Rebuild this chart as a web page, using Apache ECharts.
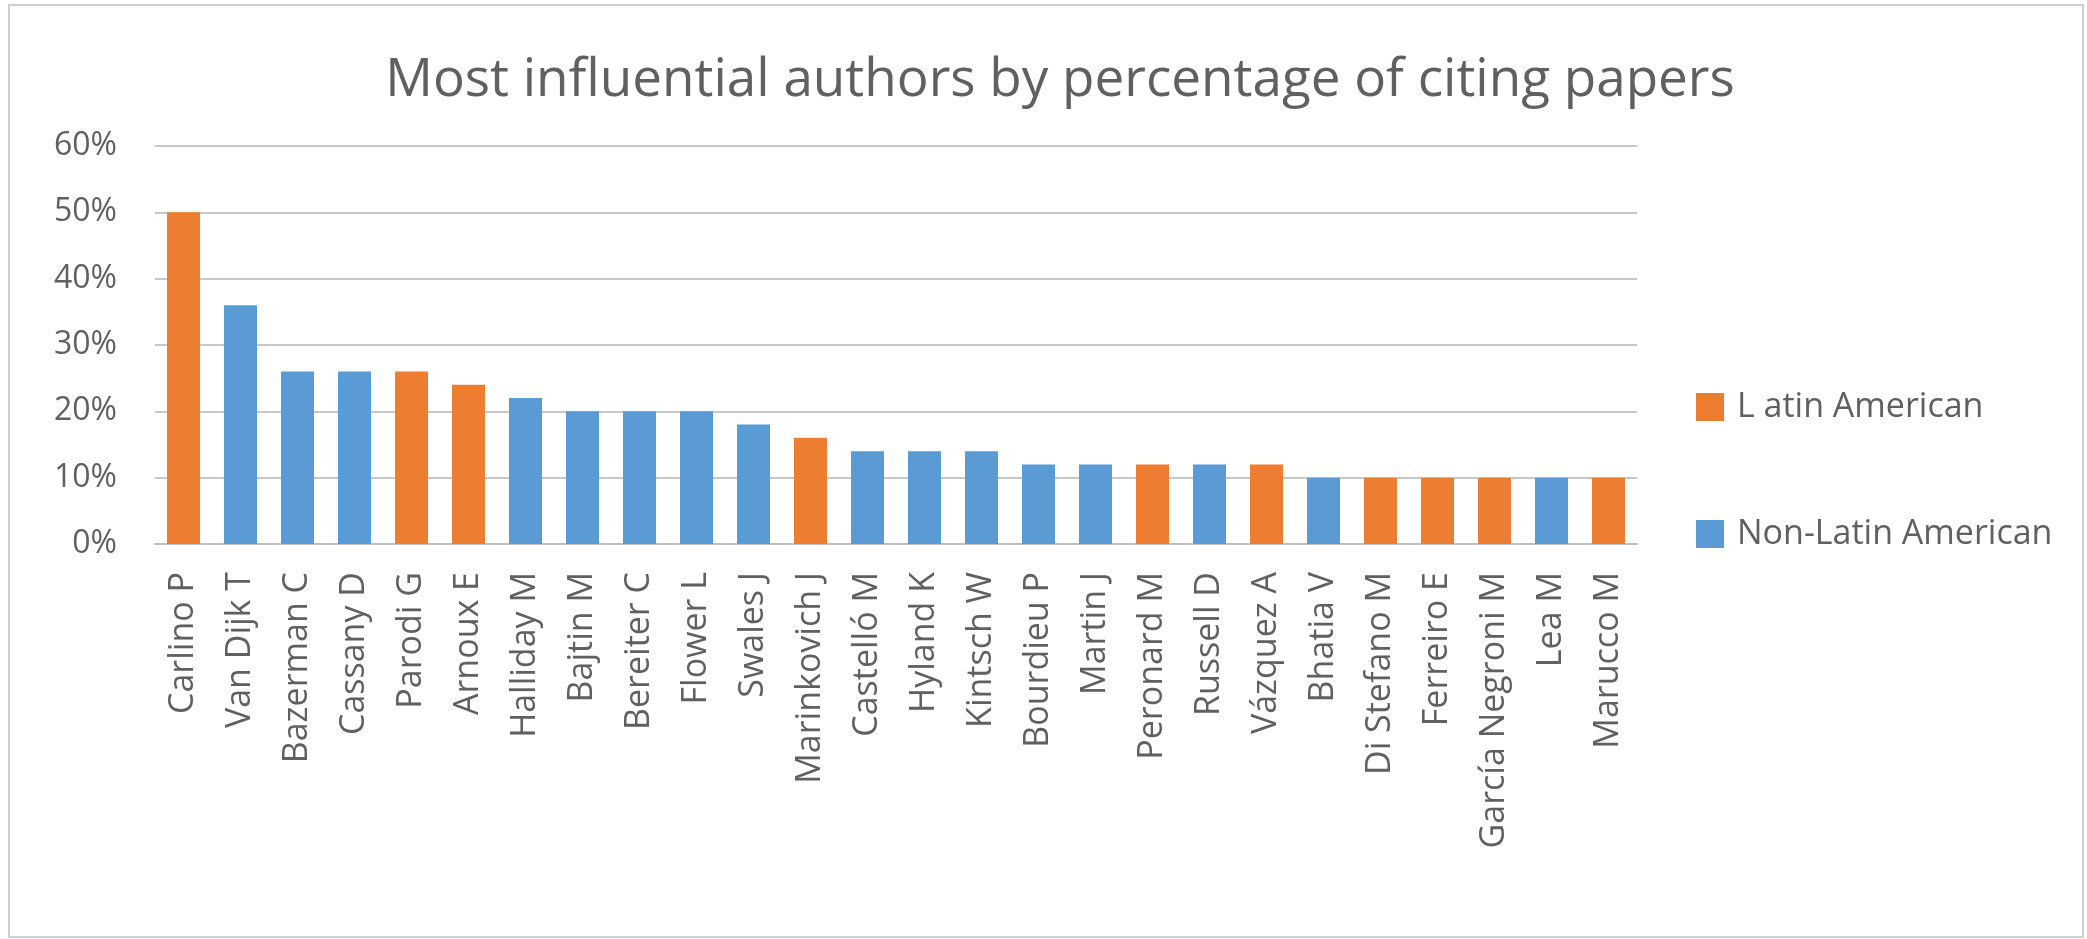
<!DOCTYPE html>
<html>
<head>
<meta charset="utf-8">
<script src="https://cdn.jsdelivr.net/npm/echarts@6/dist/echarts.min.js"></script>
<style>
html,body{margin:0;padding:0;background:#fff;}
#chart{width:2087px;height:939px;}
</style>
</head>
<body>
<div id="chart"></div>
<script>
const categories = ["Carlino P","Van Dijk T","Bazerman C","Cassany D","Parodi G","Arnoux E","Halliday M","Bajtin M","Bereiter C","Flower L","Swales J","Marinkovich J","Castelló M","Hyland K","Kintsch W","Bourdieu P","Martin J","Peronard M","Russell D","Vázquez A","Bhatia V","Di Stefano M","Ferreiro E","García Negroni M","Lea M","Marucco M"];
const values = [0.50,0.36,0.26,0.26,0.26,0.24,0.22,0.20,0.20,0.20,0.18,0.16,0.14,0.14,0.14,0.12,0.12,0.12,0.12,0.12,0.10,0.10,0.10,0.10,0.10,0.10];
const isLatin = [true,false,false,false,true,true,false,false,false,false,false,true,false,false,false,false,false,true,false,true,false,true,true,true,false,true];
const seriesNames = ["L atin American","Non-Latin American"];
const yTicks = [0,0.1,0.2,0.3,0.4,0.5,0.6];

const latinData = values.map((v,i)=> isLatin[i] ? v : null);
const nonLatinData = values.map((v,i)=> isLatin[i] ? null : v);

const font = "'Open Sans', sans-serif";
const txt = '#606060';
const chart = echarts.init(document.getElementById('chart'));
chart.setOption({
  animation:false,
  backgroundColor:'#fff',
  graphic:[{type:'rect',shape:{x:9,y:5,width:2074,height:932},style:{fill:'none',stroke:'#d0d0d0',lineWidth:2},silent:true}],
  title:{text:'Most influential authors by percentage of citing papers',left:1055,top:49,textAlign:'center',
    textStyle:{fontFamily:font,fontSize:53,fontWeight:'normal',color:txt}},
  legend:{orient:'vertical',left:1691,top:385,itemWidth:28,itemHeight:28,itemGap:93,icon:'rect',
    textStyle:{fontFamily:font,fontSize:34,color:txt,padding:[0,0,0,8]},data:seriesNames},
  grid:{left:155,right:450,top:146,bottom:395,containLabel:false},
  xAxis:{type:'category',data:categories,
    axisLine:{lineStyle:{color:'#bfbfbf',width:2}},axisTick:{show:false},
    axisLabel:{rotate:90,interval:0,margin:28,fontFamily:font,fontSize:34,color:txt}},
  yAxis:{type:'value',min:yTicks[0],max:yTicks[yTicks.length-1],interval:0.1,
    axisLine:{show:false},axisTick:{show:false},
    splitLine:{lineStyle:{color:'#c8c8c8',width:2}},
    axisLabel:{margin:38,fontFamily:font,fontSize:32,color:txt,formatter:v=>Math.round(v*100)+'%'}},
  series:[
    {name:seriesNames[0],type:'bar',stack:'a',data:latinData,barWidth:33,itemStyle:{color:'#ED7D31'}},
    {name:seriesNames[1],type:'bar',stack:'a',data:nonLatinData,barWidth:33,itemStyle:{color:'#5B9BD5'}}
  ]
});
</script>
</body>
</html>
